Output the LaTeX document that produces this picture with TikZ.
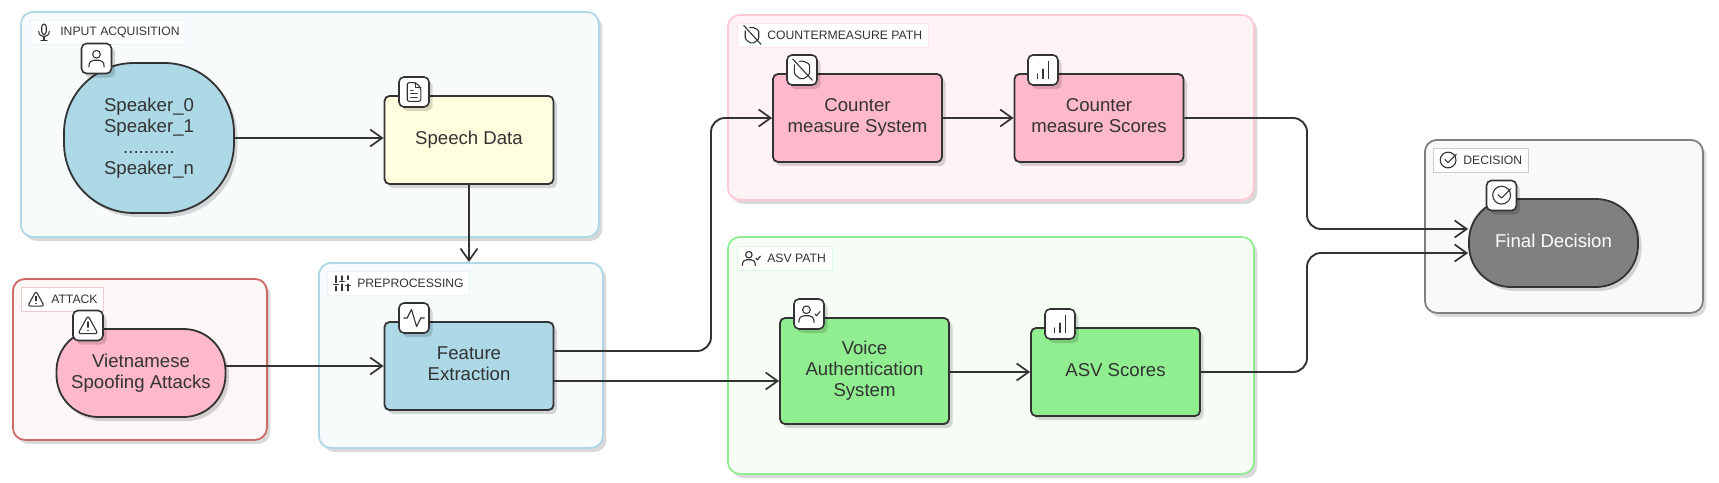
\documentclass[tikz,border=0pt]{standalone}
\usepackage{fontspec}
\setmainfont{Liberation Sans}
\usetikzlibrary{arrows.meta,shadows}
\definecolor{inkline}{HTML}{333333}
\definecolor{nodeblue}{HTML}{ADD8E6}
\definecolor{nodepink}{HTML}{FFB9CA}
\definecolor{nodegreen}{HTML}{90EE90}
\definecolor{nodeyellow}{HTML}{FFFFE0}
\definecolor{nodegray}{HTML}{808080}
\definecolor{attackline}{HTML}{CD6A66}
\definecolor{pathpink}{HTML}{FFC8D3}
\tikzset{
 softshadow/.style={drop shadow={shadow xshift=3.5pt,shadow yshift=-4pt,opacity=.15,fill=black}},
 groupbox/.style={rectangle,rounded corners=12pt,line width=1.8pt,anchor=north west,inner sep=0pt,softshadow},
 grouplabel/.style={rectangle,fill=white,line width=.6pt,anchor=north west,inner xsep=6pt,inner ysep=0pt,minimum height=24pt,text=inkline,font=\fontsize{12.2}{14}\selectfont,execute at begin node=\hspace*{24pt}},
 flowbox/.style={rectangle,rounded corners=5pt,draw=inkline,line width=1.8pt,minimum width=169pt,minimum height=88pt,align=center,text=inkline,font=\fontsize{18.6}{21}\selectfont,softshadow},
 flowtext/.style={flowbox,execute at end node=\rule[-4pt]{0pt}{0pt}},
 pillbox/.style={flowtext,rounded corners=42pt},
 iconbox/.style={rectangle,rounded corners=5pt,draw=inkline,line width=1.6pt,fill=white,minimum width=30pt,minimum height=30pt,inner sep=0pt,softshadow},
 flowline/.style={draw=inkline,line width=1.9pt,rounded corners=14pt,-{Straight Barb[length=12pt,width=17pt,line width=1.7pt]}},
 icoline/.style={draw=inkline,line width=1.1pt,line cap=round,line join=round},
 icomic/.pic={
  \draw[icoline,rounded corners=2.8pt] (-3,-11) rectangle (3,3);
  \draw[icoline] (-7,-1) .. controls (-7,8) and (7,8) .. (7,-1);
  \draw[icoline] (0,6) -- (0,11) (-4,11) -- (4,11);
 },
 icouser/.pic={
  \draw[icoline] (0,-5) circle (4.5);
  \draw[icoline] (-9,10) .. controls (-9,4) and (-6,2) .. (-3,2) -- (3,2) .. controls (6,2) and (9,4) .. (9,10);
 },
 icodoc/.pic={
  \draw[icoline,rounded corners=2pt] (2,-11) -- (-8,-11) -- (-8,11) -- (8,11) -- (8,-5) -- cycle;
  \draw[icoline] (2,-11) -- (2,-5) -- (8,-5);
  \draw[icoline] (-4,-2) -- (-1,-2) (-4,2) -- (4,2) (-4,6) -- (4,6);
 },
 icowarn/.pic={
  \draw[icoline,rounded corners=2.5pt] (0,-11) -- (11,9) -- (-11,9) -- cycle;
  \draw[icoline] (0,-4) -- (0,2) (0,5.5) -- (0,5.6);
 },
 icosliders/.pic={
  \draw[icoline] (-8,-10) -- (-8,-1) (-8,4) -- (-8,10) (0,-10) -- (0,-4) (0,1) -- (0,10) (8,-10) -- (8,-5) (8,1) -- (8,10);
  \draw[icoline] (-11,2) -- (-5,2) (-3,-2) -- (3,-2) (5,3) -- (11,3);
 },
 icopulse/.pic={
  \draw[icoline] (-12,0) -- (-8,0) -- (-3,-10) -- (3,10) -- (8,0) -- (12,0);
 },
 icoshield/.pic={
  \draw[icoline,rounded corners=1.5pt] (-3,-10) -- (0,-11) -- (9,-7) -- (9,1) .. controls (9,6) and (4,9) .. (0,11) .. controls (-4,9) and (-9,6) .. (-9,1) -- (-9,-6);
  \draw[icoline] (-11,-13) -- (12,12);
 },
 icobars/.pic={
  \draw[icoline] (-6,9) -- (-6,4) (0,9) -- (0,-1) (6,9) -- (6,-9);
 },
 icousercheck/.pic={
  \draw[icoline] (-3,-5) circle (4.5);
  \draw[icoline] (-12,10) .. controls (-12,4) and (-9,2) .. (-6,2) -- (0,2) .. controls (3,2) and (6,4) .. (6,10);
  \draw[icoline] (7,0) -- (9,2) -- (13,-3);
 },
 icocheck/.pic={
  \draw[icoline] (10,-4) arc[start angle=-20,end angle=-380,radius=10.5];
  \draw[icoline] (-4,-1) -- (0,3) -- (11,-8);
 },
}
\begin{document}
\begin{tikzpicture}[x=1pt,y=-1pt]
 \useasboundingbox (0,0) rectangle (1719,482);
 % groups
 \node[groupbox,draw=nodeblue,fill=nodeblue!10,minimum width=578pt,minimum height=225pt] (grpinput) at (20,11) {};
 \node[groupbox,draw=attackline,fill=attackline!6,minimum width=254pt,minimum height=161pt] (grpattack) at (12,278) {};
 \node[groupbox,draw=nodeblue,fill=nodeblue!10,minimum width=284pt,minimum height=185pt] (grpprep) at (318,262) {};
 \node[groupbox,draw=pathpink,fill=pathpink!22,minimum width=526pt,minimum height=185pt] (grpcm) at (727,14) {};
 \node[groupbox,draw=nodegreen,fill=nodegreen!9,minimum width=526pt,minimum height=237pt] (grpasv) at (727,236) {};
 \node[groupbox,draw=nodegray,fill=nodegray!5,minimum width=278pt,minimum height=173pt] (grpdecision) at (1424,139) {};
 % group labels
 \node[grouplabel,draw=nodeblue!25] (lblinput) at (30,20) {INPUT ACQUISITION};
 \node[grouplabel,draw=attackline!35] (lblattack) at (21,287) {ATTACK};
 \node[grouplabel,draw=nodeblue!25] (lblprep) at (327,271) {PREPROCESSING};
 \node[grouplabel,draw=pathpink!50] (lblcm) at (737,23) {COUNTERMEASURE PATH};
 \node[grouplabel,draw=nodegreen!30] (lblasv) at (737,246) {ASV PATH};
 \node[grouplabel,draw=nodegray!40] (lbldecision) at (1433,148) {DECISION};
 \pic[scale=.75] at ([xshift=14pt]lblinput.west) {icomic};
 \pic[scale=.75] at ([xshift=15pt]lblattack.west) {icowarn};
 \pic[scale=.75] at ([xshift=15pt]lblprep.west) {icosliders};
 \pic[scale=.75] at ([xshift=15pt]lblcm.west) {icoshield};
 \pic[scale=.72] at ([xshift=14pt]lblasv.west) {icousercheck};
 \pic[scale=.75] at ([xshift=15pt]lbldecision.west) {icocheck};
 % nodes
 \node[flowbox,fill=nodeblue,rounded corners=70pt,minimum width=170pt,minimum height=150pt] (speakers) at (149,138) {Speaker\_0\\Speaker\_1\\..........\\Speaker\_n};
 \node[flowtext,fill=nodeyellow] (speech) at (469,140) {Speech Data};
 \node[pillbox,fill=nodepink] (spoof) at (141,373) {Vietnamese\\Spoofing Attacks};
 \node[flowtext,fill=nodeblue] (feature) at (469,366) {Feature\\Extraction};
 \node[flowtext,fill=nodepink] (cmsystem) at (857.5,118) {Counter\\measure System};
 \node[flowtext,fill=nodepink] (cmscores) at (1099,118) {Counter\\measure Scores};
 \node[flowtext,fill=nodegreen,minimum height=106pt] (voice) at (864.5,371) {Voice\\Authentication\\System};
 \node[flowtext,fill=nodegreen] (asvscores) at (1115.5,372) {ASV Scores};
 \node[pillbox,fill=nodegray,text=white] (final) at (1553.5,243) {Final Decision};
 % icon boxes
 \node[iconbox] (boxspeakers) at (96.5,58.5) {};
 \node[iconbox] (boxspeech) at (414,92) {};
 \node[iconbox] (boxspoof) at (88,325.5) {};
 \node[iconbox] (boxfeature) at (414,318) {};
 \node[iconbox] (boxcmsystem) at (802,70) {};
 \node[iconbox] (boxcmscores) at (1043,70) {};
 \node[iconbox] (boxvoice) at (809,314) {};
 \node[iconbox] (boxasv) at (1060,324) {};
 \node[iconbox] (boxfinal) at (1501.5,195.5) {};
 \pic[scale=.85] at (boxspeakers) {icouser};
 \pic[scale=.85] at (boxspeech) {icodoc};
 \pic[scale=.9] at (boxspoof) {icowarn};
 \pic[scale=.85] at (boxfeature) {icopulse};
 \pic[scale=.85] at (boxcmsystem) {icoshield};
 \pic[scale=.95] at (boxcmscores) {icobars};
 \pic[scale=.85] at (boxvoice) {icousercheck};
 \pic[scale=.95] at (boxasv) {icobars};
 \pic[scale=.85] at (boxfinal) {icocheck};
 % connectors
 \coordinate (featureup) at ([yshift=15pt]feature.east);
 \coordinate (featuredown) at ([yshift=-15pt]feature.east);
 \coordinate (finalup) at ([yshift=14pt]final.west);
 \coordinate (finaldown) at ([yshift=-10pt]final.west);
 \coordinate (speechin) at ([yshift=2pt]speech.west);
 \coordinate (bendcm) at (711,0);
 \coordinate (bendfinal) at (1307,0);
 \draw[flowline] (speakers.east |- speechin) -- (speechin);
 \draw[flowline] (speech.south) -- (speech.south |- grpprep.north);
 \draw[flowline] (spoof.east |- feature.west) -- (feature.west);
 \draw[flowline] (featureup) -- (featureup -| bendcm) -- (bendcm |- cmsystem.west) -- (cmsystem.west);
 \draw[flowline] (featuredown) -- (featuredown -| voice.west);
 \draw[flowline] (cmsystem) -- (cmscores);
 \draw[flowline] (voice.east |- asvscores.west) -- (asvscores.west);
 \draw[flowline] (cmscores.east) -- (cmscores.east -| bendfinal) -- (bendfinal |- finalup) -- (finalup);
 \draw[flowline] (asvscores.east) -- (asvscores.east -| bendfinal) -- (bendfinal |- finaldown) -- (finaldown);
\end{tikzpicture}
\end{document}
